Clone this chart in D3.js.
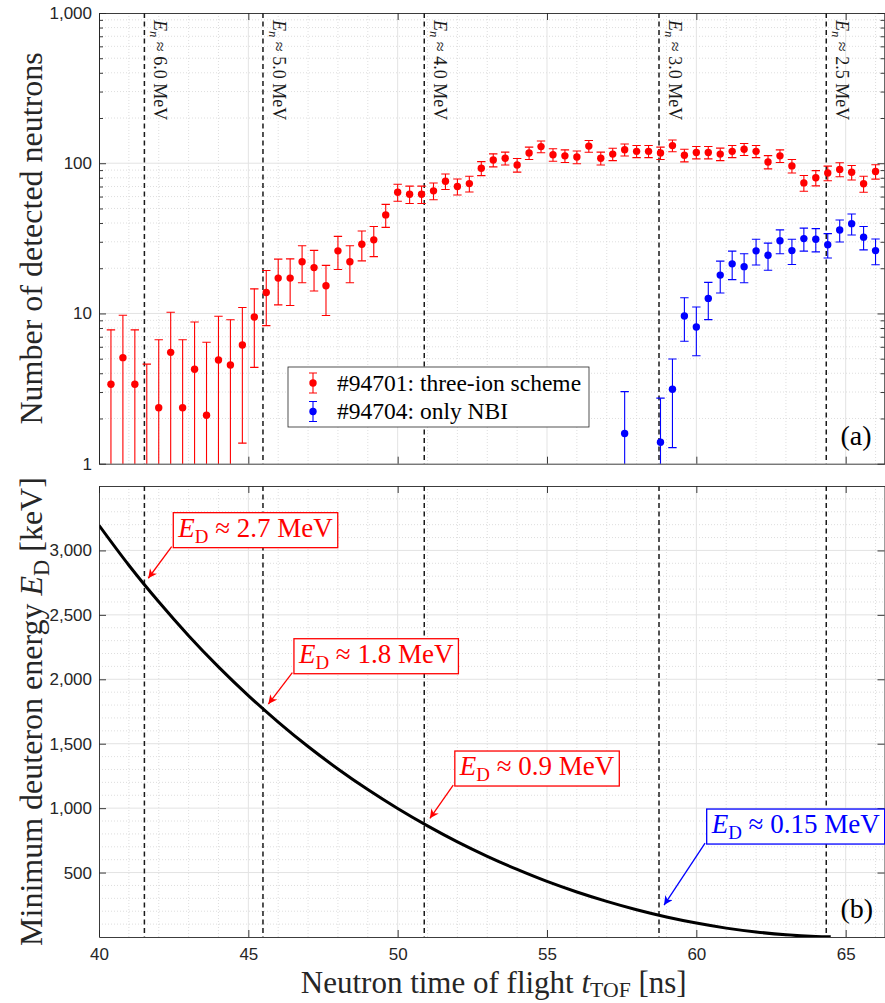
<!DOCTYPE html>
<html lang="en">
<head>
<meta charset="utf-8">
<title>Neutron time of flight</title>
<script src="https://d3js.org/d3.v7.min.js"></script>
<style>
body { margin: 0; background: #ffffff; }
text { white-space: pre; }
</style>
</head>
<body>
<div id="mainDiv"></div>
<script type="text/javascript">
const width = 885
const height = 1003

// histogram bin centres [ns]
const tof = [40.4, 40.8, 41.2, 41.6, 42.0, 42.4, 42.8, 43.2, 43.6, 44.0, 44.4, 44.8, 45.2,
    45.6, 46.0, 46.4, 46.8, 47.2, 47.6, 48.0, 48.4, 48.8, 49.2, 49.6, 50.0, 50.4, 50.8,
    51.2, 51.6, 52.0, 52.4, 52.8, 53.2, 53.6, 54.0, 54.4, 54.8, 55.2, 55.6, 56.0, 56.4,
    56.8, 57.2, 57.6, 58.0, 58.4, 58.8, 59.2, 59.6, 60.0, 60.4, 60.8, 61.2, 61.6, 62.0,
    62.4, 62.8, 63.2, 63.6, 64.0, 64.4, 64.8, 65.2, 65.6, 66.0]

// #94701 (three-ion scheme)
const redCounts = [3.38, 5.08, 3.38, 0.5, 2.36, 5.51, 2.36, 4.25, 2.10, 4.90, 4.54, 6.17, 9.48,
    13.8, 17.2, 17.2, 22.1, 20.2, 15.3, 26.1, 22.1, 28.9, 30.9, 45.3, 64.1, 62.2, 62.2,
    65.5, 75.8, 70.0, 73.2, 92.6, 105, 108, 97.4, 117, 129, 114, 112, 110, 130,
    108, 115, 123, 120, 120, 117, 131, 113, 118, 118, 115, 120, 124, 120,
    102, 112, 96, 74, 80, 86, 91, 87, 73, 88]
const redErr = [4.4, 4.65, 4.4, 4.1, 4.33, 4.68, 4.33, 4.53, 4.33, 4.68, 4.55, 4.8, 5.1,
    5.5, 5.8, 5.9, 6.1, 6.1, 5.6, 6.5, 6.1, 6.5, 7.0, 7.9, 8.3, 8.2, 8.2,
    8.4, 9.0, 8.6, 8.8, 9.9, 10.5, 10.6, 10.1, 11.0, 11.6, 10.9, 10.8, 10.7, 11.6,
    10.6, 10.9, 11.3, 11.1, 11.1, 11.0, 11.7, 10.9, 11.1, 11.1, 11.0, 11.1, 11.4, 11.1,
    10.3, 10.8, 10.0, 8.9, 9.3, 9.6, 9.8, 9.6, 8.9, 9.6]

// #94704 (only NBI)
const blueTof = [57.6, 58.8, 59.2, 59.6, 60.0, 60.4, 60.8, 61.2, 61.6, 62.0, 62.4, 62.8,
    63.2, 63.6, 64.0, 64.4, 64.8, 65.2, 65.6, 66.0]
const blueCounts = [1.59, 1.39, 3.13, 9.63, 8.13, 12.6, 18.0, 21.4, 20.5, 26.1, 24.4, 30.5,
    26.2, 31.5, 31.2, 28.7, 35.9, 39.6, 32.2, 26.2]
const blueErr = [1.43, 1.34, 1.85, 3.1, 2.9, 3.5, 4.3, 4.6, 4.5, 5.1, 5.0, 5.5,
    5.0, 5.5, 5.5, 5.3, 6.0, 6.3, 5.7, 5.1]

// neutron energy markers
const markerTof = [41.52, 45.49, 50.89, 58.75, 64.35]
const markerEnergy = ['6.0', '5.0', '4.0', '3.0', '2.5']

// minimum deuteron energy [keV] vs time of flight
const curveTof = [40, 41, 42, 43, 44, 45, 46, 47, 48, 49, 50, 51, 52, 53, 54, 55, 56, 57,
    58, 59, 60, 61, 62, 63, 64, 64.5]
const curveEnergy = [3195, 2885, 2601, 2338, 2096, 1873, 1668, 1478, 1304, 1144, 997, 862,
    738, 626, 524, 431, 349, 276, 211, 155, 108, 69, 39, 17, 4, 1]

// callouts in panel (b)
const calloutTof = [41.65, 45.67, 51.08, 58.92]
const calloutEnergy = [2784, 1808, 921, 248]
const calloutLabels = ['2.7', '1.8', '0.9', '0.15']
const calloutColors = ['#ff0000', '#ff0000', '#ff0000', '#0000ff']
const calloutOffsets = [[23.4, -31.6], [24, -31.3], [23.3, -33.3], [41, -62]]

const xTicks = [40, 45, 50, 55, 60, 65]
const countTicks = [1, 10, 100, 1000]
const energyTicks = [500, 1000, 1500, 2000, 2500, 3000]

const serif = '"Liberation Serif", "Times New Roman", serif'
const sans = '"Liberation Sans", Arial, sans-serif'
const axisColor = '#262626'

const plotLeft = 99
const plotRight = 884.5
const panelA = { top: 13, bottom: 463.7 }
const panelB = { top: 486, bottom: 937 }

const x = d3.scaleLinear().domain([40, 66.3]).range([plotLeft, plotRight])
const yA = d3.scaleLog().domain([1, 1000]).range([panelA.bottom, panelA.top])
const yB = d3.scaleLinear().domain([0, 3500]).range([panelB.bottom, panelB.top])

const svg = d3.select('#mainDiv').append('svg')
    .attr('width', width)
    .attr('height', height)

const defs = svg.append('defs')
;[['clipA', panelA], ['clipB', panelB]].forEach(([id, p]) => {
    defs.append('clipPath').attr('id', id)
        .append('rect')
        .attr('x', plotLeft).attr('y', p.top)
        .attr('width', plotRight - plotLeft).attr('height', p.bottom - p.top)
})
calloutColors.forEach((c, i) => {
    defs.append('marker')
        .attr('id', 'arrow' + i)
        .attr('viewBox', '0 0 10 10')
        .attr('refX', 10).attr('refY', 5)
        .attr('markerUnits', 'userSpaceOnUse')
        .attr('markerWidth', 11).attr('markerHeight', 9)
        .attr('orient', 'auto')
        .append('path')
        .attr('d', 'M0,0 L10,5 L0,10 L3,5 Z')
        .attr('fill', c)
})

// text with italic / subscript pieces
function mathText(sel, parts, size, shift = 0.22) {
    parts.forEach((p, i) => {
        const prevSub = i > 0 && parts[i - 1].sub
        const t = sel.append('tspan').text(p.t)
        if (p.italic) t.attr('font-style', 'italic')
        if (p.sub) t.attr('font-size', size * 0.7).attr('dy', size * shift)
        else if (prevSub) t.attr('dy', -size * shift)
    })
    return sel
}

function drawGrid(g, panel, yScale, yMajor, yMinor) {
    const xMinor = d3.range(41, 67).filter(d => d % 5 !== 0)
    g.selectAll('.xminor').data(xMinor).join('line')
        .attr('x1', d => x(d)).attr('x2', d => x(d))
        .attr('y1', panel.top).attr('y2', panel.bottom)
        .attr('stroke', '#d6d6d6').attr('stroke-width', 0.8)
        .attr('stroke-dasharray', '1,2')
    g.selectAll('.yminor').data(yMinor).join('line')
        .attr('x1', plotLeft).attr('x2', plotRight)
        .attr('y1', d => yScale(d)).attr('y2', d => yScale(d))
        .attr('stroke', '#d6d6d6').attr('stroke-width', 0.8)
        .attr('stroke-dasharray', '1,2')
    g.selectAll('.xmajor').data(xTicks.slice(1)).join('line')
        .attr('x1', d => x(d)).attr('x2', d => x(d))
        .attr('y1', panel.top).attr('y2', panel.bottom)
        .attr('stroke', '#e3e3e3').attr('stroke-width', 1)
    g.selectAll('.ymajor').data(yMajor).join('line')
        .attr('x1', plotLeft).attr('x2', plotRight)
        .attr('y1', d => yScale(d)).attr('y2', d => yScale(d))
        .attr('stroke', '#e3e3e3').attr('stroke-width', 1)
}

function drawAxes(g, panel, yScale, yTicks, yMinorTicks, withXLabels) {
    const style = a => {
        a.selectAll('path, line').attr('stroke', axisColor).attr('stroke-width', 0.9)
        a.selectAll('text').attr('fill', axisColor).attr('font-family', sans).attr('font-size', 17)
    }
    g.append('g').attr('transform', `translate(0,${panel.bottom})`)
        .call(d3.axisBottom(x).tickValues(xTicks).tickSizeInner(-7).tickSizeOuter(0)
            .tickPadding(10.5).tickFormat(withXLabels ? d3.format('d') : ''))
        .call(style)
    g.append('g').attr('transform', `translate(0,${panel.top})`)
        .call(d3.axisTop(x).tickValues(xTicks).tickSizeInner(-7).tickSizeOuter(0).tickFormat(''))
        .call(style)
    g.append('g').attr('transform', `translate(${plotLeft},0)`)
        .call(d3.axisLeft(yScale).tickValues(yTicks).tickSizeInner(-7).tickSizeOuter(0)
            .tickPadding(7).tickFormat(d3.format(',')))
        .call(style)
    g.append('g').attr('transform', `translate(${plotRight},0)`)
        .call(d3.axisRight(yScale).tickValues(yTicks).tickSizeInner(-7).tickSizeOuter(0).tickFormat(''))
        .call(style)
    if (yMinorTicks) {
        g.append('g').attr('transform', `translate(${plotLeft},0)`)
            .call(d3.axisLeft(yScale).tickValues(yMinorTicks).tickSizeInner(-4).tickSizeOuter(0).tickFormat(''))
            .call(style)
        g.append('g').attr('transform', `translate(${plotRight},0)`)
            .call(d3.axisRight(yScale).tickValues(yMinorTicks).tickSizeInner(-4).tickSizeOuter(0).tickFormat(''))
            .call(style)
    }
}

function drawMarkers(g, panel) {
    g.selectAll('.marker').data(markerTof).join('line')
        .attr('x1', d => x(d)).attr('x2', d => x(d))
        .attr('y1', panel.top).attr('y2', panel.bottom)
        .attr('stroke', '#1a1a1a').attr('stroke-width', 1.5)
        .attr('stroke-dasharray', '5,3.5')
}

// ---------- panel (a) ----------
const logMinor = [1, 10, 100].flatMap(d => d3.range(2, 10).map(m => m * d))
const gA = svg.append('g')
drawGrid(gA, panelA, yA, [10, 100], logMinor)
drawMarkers(gA, panelA)

markerTof.forEach((t, i) => {
    const txt = gA.append('text')
        .attr('transform', `translate(${x(t) + 10},${panelA.top + 7}) rotate(90)`)
        .attr('font-family', serif).attr('font-size', 18).attr('fill', '#1a1a1a')
    mathText(txt, [{ t: 'E', italic: true }, { t: 'n', italic: true, sub: true },
        { t: ' \u2248 ' + markerEnergy[i] + ' MeV' }], 18)
})

function errorSeries(g, ts, vals, errs, color) {
    const rows = ts.map((t, i) => ({ t, v: vals[i], lo: Math.max(vals[i] - errs[i], 0.3), hi: vals[i] + errs[i] }))
    const s = g.append('g').attr('clip-path', 'url(#clipA)')
    const cap = 4.2
    s.selectAll('.bar').data(rows).join('line')
        .attr('x1', d => x(d.t)).attr('x2', d => x(d.t))
        .attr('y1', d => yA(d.lo)).attr('y2', d => yA(d.hi))
        .attr('stroke', color).attr('stroke-width', 1.1)
    s.selectAll('.capHi').data(rows).join('line')
        .attr('x1', d => x(d.t) - cap).attr('x2', d => x(d.t) + cap)
        .attr('y1', d => yA(d.hi)).attr('y2', d => yA(d.hi))
        .attr('stroke', color).attr('stroke-width', 1.1)
    s.selectAll('.capLo').data(rows).join('line')
        .attr('x1', d => x(d.t) - cap).attr('x2', d => x(d.t) + cap)
        .attr('y1', d => yA(d.lo)).attr('y2', d => yA(d.lo))
        .attr('stroke', color).attr('stroke-width', 1.1)
    s.selectAll('.dot').data(rows).join('circle')
        .attr('cx', d => x(d.t)).attr('cy', d => yA(d.v))
        .attr('r', 3.7).attr('fill', color)
}
errorSeries(gA, tof, redCounts, redErr, '#ff0000')
errorSeries(gA, blueTof, blueCounts, blueErr, '#0000ff')

drawAxes(gA, panelA, yA, countTicks, logMinor.filter(d => d > 1), false)

// legend
const legend = gA.append('g').attr('transform', 'translate(288,367)')
legend.append('rect')
    .attr('width', 301).attr('height', 60)
    .attr('fill', '#ffffff').attr('stroke', axisColor).attr('stroke-width', 0.8)
const legendItems = [
    { label: '#94701: three-ion scheme', color: '#ff0000' },
    { label: '#94704: only NBI', color: '#0000ff' }
]
legendItems.forEach((it, i) => {
    const cy = 16 + i * 28.5
    const row = legend.append('g').attr('transform', `translate(25,${cy})`)
    row.append('line').attr('y1', -10).attr('y2', 10).attr('stroke', it.color).attr('stroke-width', 1.1)
    row.append('line').attr('x1', -4).attr('x2', 4).attr('y1', -10).attr('y2', -10).attr('stroke', it.color)
    row.append('line').attr('x1', -4).attr('x2', 4).attr('y1', 10).attr('y2', 10).attr('stroke', it.color)
    row.append('circle').attr('r', 3.7).attr('fill', it.color)
    row.append('text').attr('x', 24).attr('y', 7.5)
        .attr('font-family', serif).attr('font-size', 23.5).attr('fill', '#000')
        .text(it.label)
})

gA.append('text')
    .attr('x', plotRight - 44).attr('y', panelA.bottom - 19)
    .attr('font-family', serif).attr('font-size', 28).attr('fill', '#000')
    .text('(a)')

// ---------- panel (b) ----------
const gB = svg.append('g')
const energyMinor = d3.range(100, 3500, 100).filter(d => d % 500 !== 0)
drawGrid(gB, panelB, yB, energyTicks, energyMinor)
drawMarkers(gB, panelB)

const line = d3.line()
    .x(d => x(d[0]))
    .y(d => yB(d[1]))
    .curve(d3.curveMonotoneX)
gB.append('path')
    .datum(curveTof.map((t, i) => [t, curveEnergy[i]]))
    .attr('clip-path', 'url(#clipB)')
    .attr('d', line)
    .attr('fill', 'none')
    .attr('stroke', '#000')
    .attr('stroke-width', 3)

drawAxes(gB, panelB, yB, energyTicks, null, true)

calloutTof.forEach((t, i) => {
    const tipX = x(t)
    const tipY = yB(calloutEnergy[i])
    const tailX = tipX + calloutOffsets[i][0]
    const tailY = tipY + calloutOffsets[i][1]
    const c = calloutColors[i]
    gB.append('line')
        .attr('x1', tailX).attr('y1', tailY).attr('x2', tipX).attr('y2', tipY)
        .attr('stroke', c).attr('stroke-width', 1.3)
        .attr('marker-end', `url(#arrow${i})`)
    const box = gB.append('g').attr('transform', `translate(${tailX + 1.6},${tailY + 1})`)
    const rect = box.append('rect').attr('y', -35).attr('height', 35)
        .attr('fill', '#ffffff').attr('stroke', c).attr('stroke-width', 1.3)
    const txt = box.append('text').attr('x', 5).attr('y', -11)
        .attr('font-family', serif).attr('font-size', 27).attr('fill', c)
    mathText(txt, [{ t: 'E', italic: true }, { t: 'D', sub: true },
        { t: ' \u2248 ' + calloutLabels[i] + ' MeV' }], 27)
    rect.attr('width', txt.node().getComputedTextLength() + 10)
})

gB.append('text')
    .attr('x', plotRight - 44).attr('y', panelB.bottom - 19)
    .attr('font-family', serif).attr('font-size', 28).attr('fill', '#000')
    .text('(b)')

// ---------- axis titles ----------
const titleSize = 32
const xTitle = svg.append('text')
    .attr('x', (plotLeft + plotRight) / 2 + 2).attr('y', 992.5)
    .attr('text-anchor', 'middle')
    .attr('font-family', serif).attr('font-size', 31).attr('fill', '#262626')
mathText(xTitle, [{ t: 'Neutron time of flight ' }, { t: 't', italic: true },
    { t: 'TOF', sub: true }, { t: ' [ns]' }], 31, 0.14)

svg.append('text')
    .attr('transform', `translate(42,${(panelA.top + panelA.bottom) / 2}) rotate(-90)`)
    .attr('text-anchor', 'middle')
    .attr('font-family', serif).attr('font-size', titleSize).attr('fill', '#262626')
    .text('Number of detected neutrons')

const yTitleB = svg.append('text')
    .attr('transform', `translate(42,${(panelB.top + panelB.bottom) / 2}) rotate(-90)`)
    .attr('text-anchor', 'middle')
    .attr('font-family', serif).attr('font-size', titleSize).attr('fill', '#262626')
mathText(yTitleB, [{ t: 'Minimum deuteron energy ' }, { t: 'E', italic: true },
    { t: 'D', sub: true }, { t: ' [keV]' }], titleSize)
</script>
</body>
</html>
